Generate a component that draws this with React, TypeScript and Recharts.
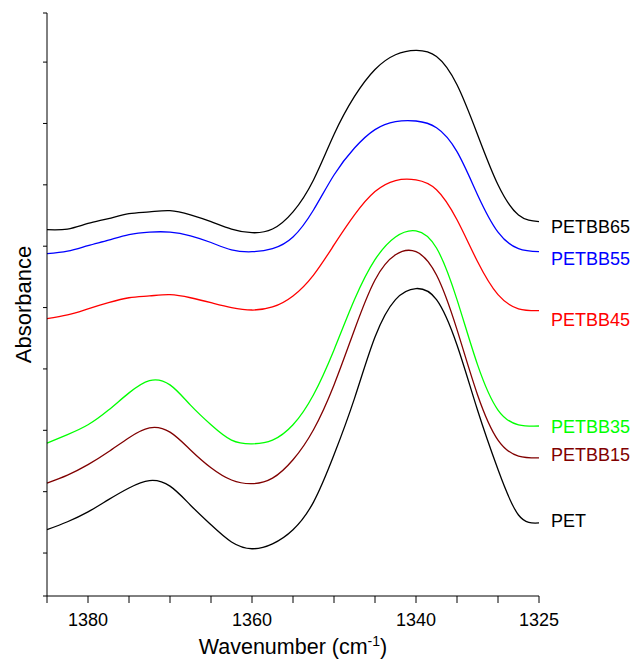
import React from "react"
import { LineChart, Line, XAxis, YAxis, Label } from "recharts"

// wavenumber grid (cm-1), reversed axis 1385 -> 1325
const wavenumbers = [
  1385, 1382.5, 1380, 1377.5, 1375, 1372.5, 1370, 1367.5, 1365, 1362.5, 1360, 1357.5, 1355,
  1352.5, 1350, 1347.5, 1345, 1342.5, 1340, 1337.5, 1335, 1332.5, 1330, 1327.5, 1325,
]

const pet = [
  0.038, 0.051, 0.067, 0.087, 0.106, 0.118, 0.109, 0.078, 0.046, 0.018, 0.007, 0.015, 0.038,
  0.083, 0.16, 0.252, 0.352, 0.413, 0.431, 0.413, 0.339, 0.233, 0.136, 0.062, 0.049,
]
const petbb15 = [
  0.114, 0.127, 0.144, 0.165, 0.188, 0.204, 0.197, 0.168, 0.139, 0.119, 0.113, 0.122, 0.152,
  0.201, 0.274, 0.364, 0.445, 0.486, 0.491, 0.453, 0.364, 0.258, 0.184, 0.158, 0.155,
]
const petbb35 = [
  0.179, 0.193, 0.209, 0.233, 0.261, 0.281, 0.274, 0.241, 0.209, 0.184, 0.178, 0.184, 0.209,
  0.258, 0.331, 0.413, 0.478, 0.515, 0.525, 0.497, 0.413, 0.307, 0.233, 0.209, 0.207,
]
const petbb45 = [
  0.382, 0.388, 0.398, 0.408, 0.416, 0.419, 0.421, 0.416, 0.408, 0.4, 0.396, 0.401, 0.419,
  0.453, 0.502, 0.551, 0.589, 0.607, 0.608, 0.592, 0.543, 0.475, 0.421, 0.398, 0.395,
]
const petbb55 = [
  0.488, 0.492, 0.501, 0.51, 0.519, 0.523, 0.523, 0.517, 0.506, 0.494, 0.491, 0.496, 0.515,
  0.559, 0.616, 0.66, 0.69, 0.703, 0.704, 0.693, 0.654, 0.584, 0.523, 0.496, 0.491,
]
const petbb65 = [
  0.527, 0.528, 0.537, 0.545, 0.553, 0.556, 0.558, 0.551, 0.54, 0.528, 0.522, 0.528, 0.556,
  0.608, 0.682, 0.744, 0.788, 0.812, 0.819, 0.809, 0.763, 0.682, 0.6, 0.551, 0.54,
]

const xTicks = [1385, 1380, 1375, 1370, 1365, 1360, 1355, 1350, 1345, 1340, 1335, 1330, 1325]
const xTickLabels = [1380, 1360, 1340, 1325]
const yTicks = [-0.07, 0, 0.1, 0.2, 0.3, 0.4, 0.5, 0.6, 0.7, 0.8, 0.88]

const series = [
  { key: "petbb65", name: "PETBB65", values: petbb65, color: "#000000", dy: 5 },
  { key: "petbb55", name: "PETBB55", values: petbb55, color: "#0000ff", dy: 7 },
  { key: "petbb45", name: "PETBB45", values: petbb45, color: "#ff0000", dy: 9 },
  { key: "petbb35", name: "PETBB35", values: petbb35, color: "#00ff00", dy: 1 },
  { key: "petbb15", name: "PETBB15", values: petbb15, color: "#800000", dy: -3 },
  { key: "pet", name: "PET", values: pet, color: "#000000", dy: -2 },
]

const data = wavenumbers.map((wn, i) => {
  const row: Record<string, number> = { wn }
  series.forEach((s) => (row[s.key] = s.values[i]))
  return row
})

const FONT = "'Liberation Sans', Arial, sans-serif"
const last = wavenumbers.length - 1

export default function App() {
  return (
    <div style={{ position: "fixed", left: 0, top: 0, width: 634, height: 659, background: "#fff" }}>
      <LineChart
        width={634}
        height={659}
        data={data}
        margin={{ top: 13, right: 95, bottom: 1, left: 0 }}
        style={{ fontFamily: FONT }}
      >
        <XAxis
          dataKey="wn"
          type="number"
          domain={[1325, 1385]}
          reversed
          ticks={xTicks}
          interval={0}
          tickFormatter={(v: number) => (xTickLabels.includes(v) ? String(v) : "")}
          tickSize={7}
          tickMargin={10}
          height={62}
          stroke="#000"
          tick={{ fill: "#000", fontSize: 18, fontFamily: FONT }}
        >
          <Label
            content={({ viewBox }: any) => (
              <text
                x={viewBox.x + viewBox.width / 2}
                y={viewBox.y + viewBox.height - 4}
                textAnchor="middle"
                fontSize={21.5}
                fontFamily={FONT}
                fill="#000"
              >
                Wavenumber (cm
                <tspan fontSize={14} dy={-8}>
                  -1
                </tspan>
                <tspan dy={8}>)</tspan>
              </text>
            )}
          />
        </XAxis>
        <YAxis
          type="number"
          domain={[-0.07, 0.88]}
          ticks={yTicks}
          interval={0}
          tickFormatter={() => ""}
          tickSize={4}
          width={47}
          stroke="#000"
        >
          <Label
            content={({ viewBox }: any) => (
              <text
                x={0}
                y={0}
                transform={`translate(${viewBox.x + 31}, ${viewBox.y + viewBox.height / 2}) rotate(-90)`}
                textAnchor="middle"
                fontSize={22}
                fontFamily={FONT}
                fill="#000"
              >
                Absorbance
              </text>
            )}
          />
        </YAxis>
        {series.map((s) => (
          <Line
            key={s.key}
            dataKey={s.key}
            type="natural"
            stroke={s.color}
            strokeWidth={1.3}
            dot={false}
            isAnimationActive={false}
            label={(p: any) =>
              p.index === last ? (
                <text
                  key={s.key + "-lbl"}
                  x={p.x + 12}
                  y={p.y + s.dy}
                  dy="0.35em"
                  fontSize={18}
                  fontFamily={FONT}
                  fill={s.color}
                >
                  {s.name}
                </text>
              ) : (
                <g key={s.key + "-" + p.index} />
              )
            }
          />
        ))}
      </LineChart>
    </div>
  )
}
